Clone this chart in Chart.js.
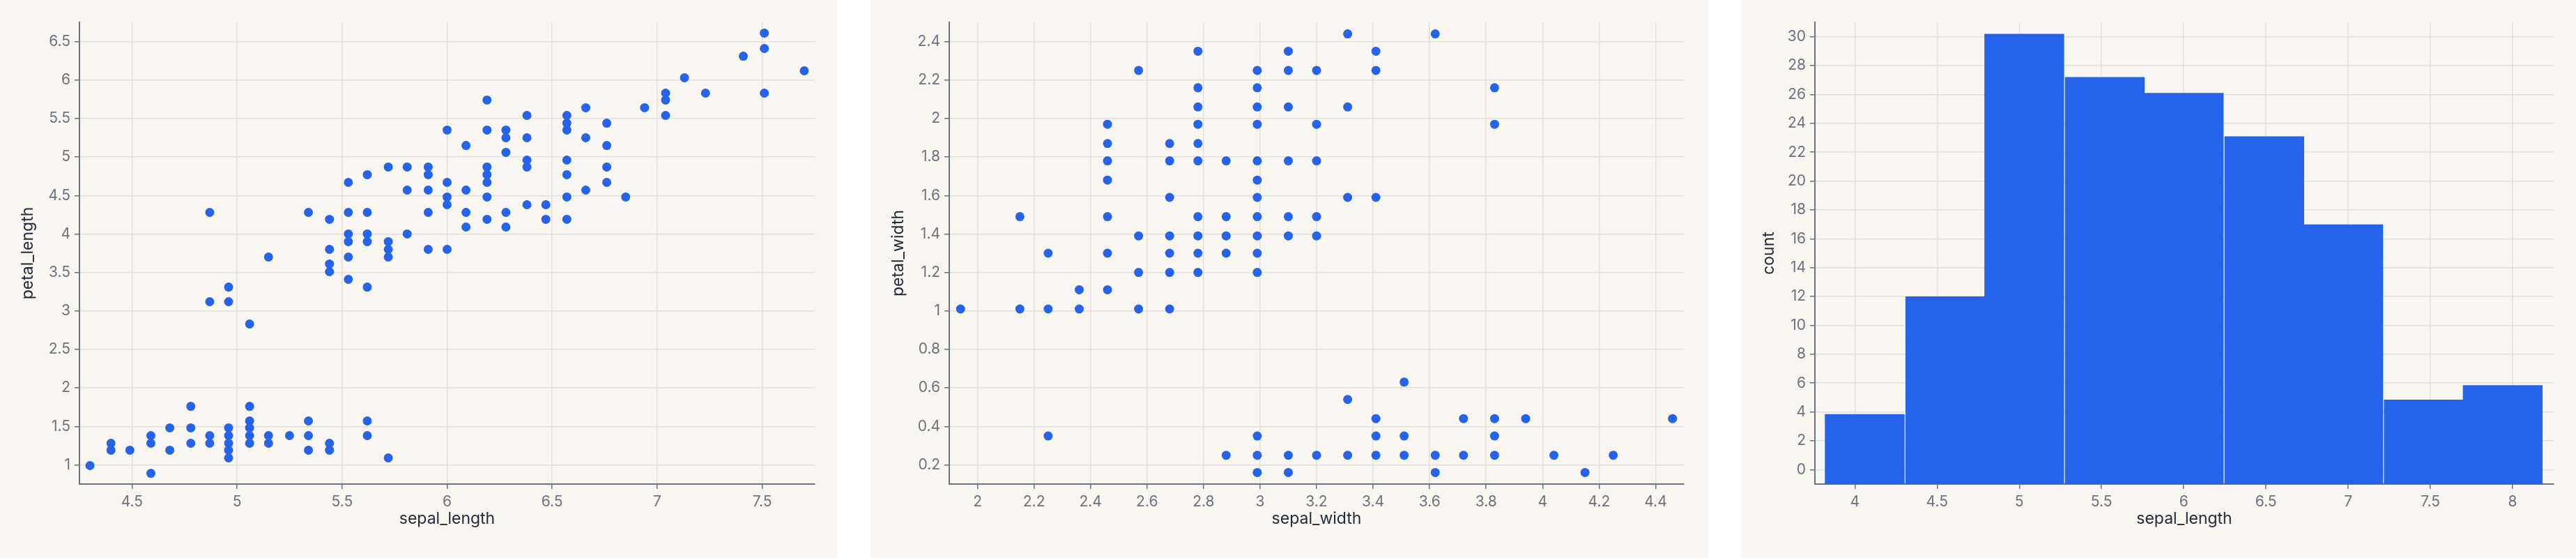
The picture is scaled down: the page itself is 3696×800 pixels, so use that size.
<!DOCTYPE html>
<html>
<head>
<meta charset="utf-8">
<script src="https://cdn.jsdelivr.net/npm/chart.js@4.4.1/dist/chart.umd.min.js"></script>
<style>
  body { margin: 0; background: #fff; width: 3696px; height: 800px; position: relative; overflow: hidden; }
  .panel { position: absolute; top: 0; height: 800px; background: #f9f6f1; }
  canvas { display: block; }
</style>
</head>
<body>
<div class="panel" style="left:0;width:1202px"><canvas id="c1" width="1202" height="800"></canvas></div>
<div class="panel" style="left:1249px;width:1202px"><canvas id="c2" width="1202" height="800"></canvas></div>
<div class="panel" style="left:2498px;width:1198px"><canvas id="c3" width="1198" height="800"></canvas></div>
<script>
// panel 1: sepal_length vs petal_length
const sepalLength1 = [4.3,4.4,4.4,4.49,4.59,4.59,4.59,4.68,4.68,4.78,4.78,4.78,4.87,4.87,4.87,4.87,
  4.96,4.96,4.96,4.96,4.96,4.96,4.96,5.06,5.06,5.06,5.06,5.06,5.06,5.15,5.15,5.15,5.25,
  5.34,5.34,5.34,5.34,5.44,5.44,5.44,5.44,5.44,5.44,5.53,5.53,5.53,5.53,5.53,5.53,
  5.62,5.62,5.62,5.62,5.62,5.62,5.62,5.72,5.72,5.72,5.72,5.72,5.81,5.81,5.81,
  5.91,5.91,5.91,5.91,5.91,6.0,6.0,6.0,6.0,6.0,6.09,6.09,6.09,6.09,
  6.19,6.19,6.19,6.19,6.19,6.19,6.19,6.28,6.28,6.28,6.28,6.28,6.38,6.38,6.38,6.38,6.38,
  6.47,6.47,6.57,6.57,6.57,6.57,6.57,6.57,6.57,6.66,6.66,6.66,6.76,6.76,6.76,6.76,
  6.85,6.94,7.04,7.04,7.04,7.13,7.23,7.41,7.51,7.51,7.51,7.7];
const petalLength1 = [0.99,1.28,1.19,1.19,1.38,1.28,0.89,1.48,1.19,1.76,1.48,1.28,4.28,3.12,1.38,1.28,
  3.31,3.12,1.48,1.38,1.28,1.19,1.09,2.83,1.76,1.57,1.48,1.38,1.28,3.7,1.38,1.28,1.38,
  4.28,1.57,1.38,1.19,4.19,3.8,3.61,3.51,1.28,1.19,4.67,4.28,4.0,3.9,3.7,3.41,
  4.77,4.28,4.0,3.9,3.31,1.57,1.38,4.87,3.9,3.8,3.7,1.09,4.87,4.57,4.0,
  4.87,4.77,4.57,4.28,3.8,5.35,4.67,4.48,4.38,3.8,5.15,4.57,4.28,4.09,
  5.74,5.35,4.87,4.77,4.67,4.48,4.19,5.35,5.25,5.06,4.28,4.09,5.54,5.25,4.96,4.87,4.38,
  4.38,4.19,5.54,5.44,5.35,4.96,4.77,4.48,4.19,5.64,5.25,4.57,5.44,5.15,4.87,4.67,
  4.48,5.64,5.83,5.74,5.54,6.03,5.83,6.31,6.61,6.41,5.83,6.12];
const xTicks1 = [4.5,5,5.5,6,6.5,7,7.5];
const yTicks1 = [1,1.5,2,2.5,3,3.5,4,4.5,5,5.5,6,6.5];

// panel 2: sepal_width vs petal_width
const sepalWidth2 = [1.94,2.15,2.15,2.25,2.25,2.25,2.36,2.36,
  2.46,2.46,2.46,2.46,2.46,2.46,2.46,2.57,2.57,2.57,2.57,
  2.68,2.68,2.68,2.68,2.68,2.68,2.68,2.78,2.78,2.78,2.78,2.78,2.78,2.78,2.78,2.78,2.78,
  2.88,2.88,2.88,2.88,2.88,2.99,2.99,2.99,2.99,2.99,2.99,2.99,2.99,2.99,2.99,2.99,2.99,2.99,2.99,
  3.1,3.1,3.1,3.1,3.1,3.1,3.1,3.1,3.2,3.2,3.2,3.2,3.2,3.2,
  3.31,3.31,3.31,3.31,3.31,3.41,3.41,3.41,3.41,3.41,3.41,3.51,3.51,3.51,3.62,3.62,3.62,
  3.72,3.72,3.83,3.83,3.83,3.83,3.83,3.94,4.04,4.15,4.25,4.46];
const petalWidth2 = [1.01,1.49,1.01,1.3,1.01,0.35,1.11,1.01,
  1.97,1.87,1.78,1.68,1.49,1.3,1.11,2.25,1.39,1.2,1.01,
  1.87,1.78,1.59,1.39,1.3,1.2,1.01,2.35,2.16,2.06,1.97,1.87,1.78,1.49,1.39,1.3,1.2,
  1.78,1.49,1.39,1.3,0.25,2.25,2.16,2.06,1.97,1.78,1.68,1.59,1.49,1.39,1.3,1.2,0.35,0.25,0.16,
  2.35,2.25,2.06,1.78,1.49,1.39,0.25,0.16,2.25,1.97,1.78,1.49,1.39,0.25,
  2.44,2.06,1.59,0.54,0.25,2.35,2.25,1.59,0.44,0.35,0.25,0.63,0.35,0.25,2.44,0.25,0.16,
  0.44,0.25,2.16,1.97,0.44,0.35,0.25,0.44,0.25,0.16,0.25,0.44];
const xTicks2 = [2,2.2,2.4,2.6,2.8,3,3.2,3.4,3.6,3.8,4,4.2,4.4];
const yTicks2 = [0.2,0.4,0.6,0.8,1,1.2,1.4,1.6,1.8,2,2.2,2.4];

// panel 3: histogram of sepal_length
const binCenters = [4.06,4.55,5.03,5.52,6.0,6.49,6.97,7.46,7.94];
const binCounts = [3.85,12,30.2,27.2,26.1,23.1,17,4.85,5.85];
const xTicks3 = [4,4.5,5,5.5,6,6.5,7,7.5,8];
const yTicks3 = [0,2,4,6,8,10,12,14,16,18,20,22,24,26,28,30];

const BLUE = '#2563eb';
const FONT = 'Inter, "Noto Sans", sans-serif';

function axis(title, min, max, ticks, size, pos) {
    return {
        type: 'linear', position: pos, min: min, max: max, offset: false,
        afterBuildTicks: s => { s.ticks = ticks.map(v => ({ value: v })); },
        afterFit: s => { if (pos === 'left') s.width = size; else s.height = size; },
        grid: { color: '#e3dfda', lineWidth: 1.5, drawTicks: true, tickLength: 7, tickColor: '#6b7280', offset: false },
        border: { color: '#6b7280', width: 2 },
        ticks: { color: '#6b7280', font: { family: FONT, size: 21 }, padding: 6, maxRotation: 0,
            callback: v => String(Math.round(v * 100) / 100) },
        title: { display: true, text: title, color: '#1f2937', font: { family: FONT, size: 23 }, padding: 0 }
    };
}

function baseOptions(xs, ys, right) {
    return {
        responsive: false, animation: false,
        layout: { padding: { top: 32, right: right, bottom: 42, left: 26 } },
        plugins: { legend: { display: false }, tooltip: { enabled: false } },
        scales: { x: xs, y: ys }
    };
}

function scatter(id, xs, ys, xAxis, yAxis, right) {
    new Chart(document.getElementById(id), {
        type: 'scatter',
        data: { datasets: [{ data: xs.map((x, i) => ({ x: x, y: ys[i] })),
            backgroundColor: BLUE, borderWidth: 0, pointRadius: 6.5 }] },
        options: baseOptions(xAxis, yAxis, right)
    });
}

scatter('c1', sepalLength1, petalLength1,
    axis('sepal_length', 4.25, 7.75, xTicks1, 64, 'bottom'),
    axis('petal_length', 0.75, 6.75, yTicks1, 88, 'left'), 33);

scatter('c2', sepalWidth2, petalWidth2,
    axis('sepal_width', 1.9, 4.5, xTicks2, 64, 'bottom'),
    axis('petal_width', 0.1, 2.5, yTicks2, 87, 'left'), 35);

new Chart(document.getElementById('c3'), {
    type: 'bar',
    data: { datasets: [{ data: binCenters.map((x, i) => ({ x: x, y: binCounts[i] })),
        backgroundColor: BLUE, borderWidth: 0,
        barPercentage: 1.01, categoryPercentage: 1, base: -1 }] },
    options: baseOptions(
        axis('sepal_length', 3.757, 8.25, xTicks3, 64, 'bottom'),
        axis('count', -1, 31, yTicks3, 80, 'left'), 32)
});
</script>
</body>
</html>
